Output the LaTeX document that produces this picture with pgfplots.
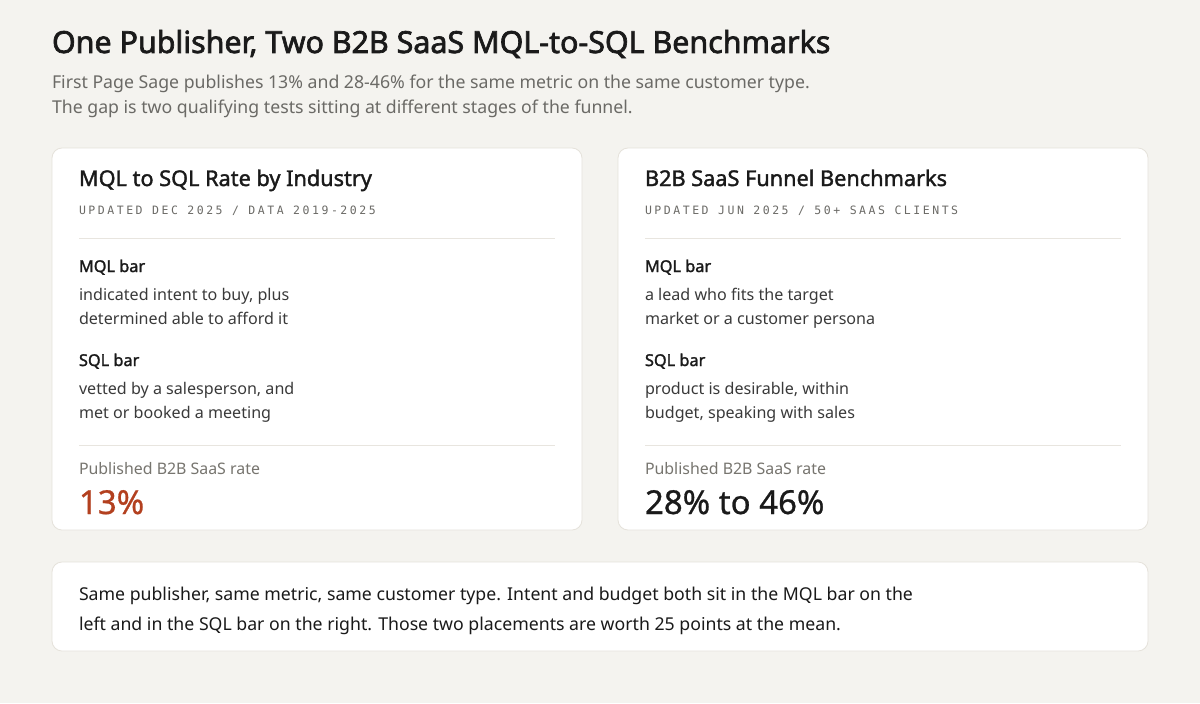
\documentclass[border=0pt]{standalone}
\usepackage{pgfplots}
\pgfplotsset{compat=1.18}
\usepackage{fontspec}
\setmainfont{Noto Sans}
\newfontfamily\semib[FakeBold=1.6]{Noto Sans}
\newfontfamily\heavy[FakeBold=2.2]{Noto Sans}
\newfontfamily\medium[FakeBold=0.8]{Noto Sans}
\newfontfamily\monof[LetterSpace=22]{DejaVu Sans Mono}

\definecolor{bg}{HTML}{F4F3EF}
\definecolor{cardline}{HTML}{E5E2DB}
\definecolor{rule}{HTML}{E8E5DF}
\definecolor{ink}{HTML}{1A1A1A}
\definecolor{sub}{HTML}{6B6A66}
\definecolor{body}{HTML}{3A3A3A}
\definecolor{muted}{HTML}{77756F}
\definecolor{rust}{HTML}{B3401F}

\newcommand{\fs}[1]{\fontsize{#1bp}{#1bp}\selectfont}

\begin{document}
\begin{tikzpicture}[t/.style={inner sep=0pt, outer sep=0pt, anchor=base west}]
\begin{axis}[
    scale only axis, width=1200bp, height=703bp,
    xmin=0, xmax=1200, ymin=0, ymax=703, y dir=reverse,
    hide axis, clip=false,
]
% page and cards
\fill[bg] (axis cs:0,0) rectangle (axis cs:1200,703);
\draw[fill=white, draw=cardline, line width=0.8bp, rounded corners=10bp]
    (axis cs:52,148) rectangle (axis cs:582,530);
\draw[fill=white, draw=cardline, line width=0.8bp, rounded corners=10bp]
    (axis cs:618,148) rectangle (axis cs:1148,530);
\draw[fill=white, draw=cardline, line width=0.8bp, rounded corners=10bp]
    (axis cs:52,562) rectangle (axis cs:1148,651);
\draw[rule, line width=1bp] (axis cs:79,238) -- (axis cs:555,238);
\draw[rule, line width=1bp] (axis cs:79,445) -- (axis cs:555,445);
\draw[rule, line width=1bp] (axis cs:645,238) -- (axis cs:1121,238);
\draw[rule, line width=1bp] (axis cs:645,445) -- (axis cs:1121,445);

% header
\node[t, text=ink] at (axis cs:52,53) {\fs{30.4}\heavy One Publisher, Two B2B SaaS MQL-to-SQL Benchmarks};
\node[t, text=sub] at (axis cs:52,89) {\fs{17.7}First Page Sage publishes 13\% and 28-46\% for the same metric on the same customer type.};
\node[t, text=sub] at (axis cs:52,114) {\fs{17.7}The gap is two qualifying tests sitting at different stages of the funnel.};

% left card
\node[t, text=ink] at (axis cs:79,186) {\fs{21.7}\semib MQL to SQL Rate by Industry};
\node[t, text=sub] at (axis cs:79,214) {\fs{11.5}\monof UPDATED DEC 2025 / DATA 2019-2025};
\node[t, text=ink] at (axis cs:79,272) {\fs{16.3}\semib MQL bar};
\node[t, text=body] at (axis cs:79,300) {\fs{16.1}indicated intent to buy, plus};
\node[t, text=body] at (axis cs:79,324) {\fs{16.1}determined able to afford it};
\node[t, text=ink] at (axis cs:79,366) {\fs{16.3}\semib SQL bar};
\node[t, text=body] at (axis cs:79,394) {\fs{16.1}vetted by a salesperson, and};
\node[t, text=body] at (axis cs:79,418) {\fs{16.1}met or booked a meeting};
\node[t, text=muted] at (axis cs:79,474) {\fs{15.9}Published B2B SaaS rate};
\node[t, text=rust] at (axis cs:79,514) {\fs{33}\medium 13\%};

% right card
\node[t, text=ink] at (axis cs:645,186) {\fs{21.7}\semib B2B SaaS Funnel Benchmarks};
\node[t, text=sub] at (axis cs:645,214) {\fs{11.5}\monof UPDATED JUN 2025 / 50+ SAAS CLIENTS};
\node[t, text=ink] at (axis cs:645,272) {\fs{16.3}\semib MQL bar};
\node[t, text=body] at (axis cs:645,300) {\fs{16.1}a lead who fits the target};
\node[t, text=body] at (axis cs:645,324) {\fs{16.1}market or a customer persona};
\node[t, text=ink] at (axis cs:645,366) {\fs{16.3}\semib SQL bar};
\node[t, text=body] at (axis cs:645,394) {\fs{16.1}product is desirable, within};
\node[t, text=body] at (axis cs:645,418) {\fs{16.1}budget, speaking with sales};
\node[t, text=muted] at (axis cs:645,474) {\fs{15.9}Published B2B SaaS rate};
\node[t, text=ink] at (axis cs:645,514) {\fs{33}\medium 28\% to 46\%};

% bottom note
\node[t, text=ink] at (axis cs:79,600) {\fs{17.7}Same publisher, same metric, same customer type. Intent and budget both sit in the MQL bar on the};
\node[t, text=ink] at (axis cs:79,630) {\fs{17.7}left and in the SQL bar on the right. Those two placements are worth 25 points at the mean.};
\end{axis}
\end{tikzpicture}
\end{document}
